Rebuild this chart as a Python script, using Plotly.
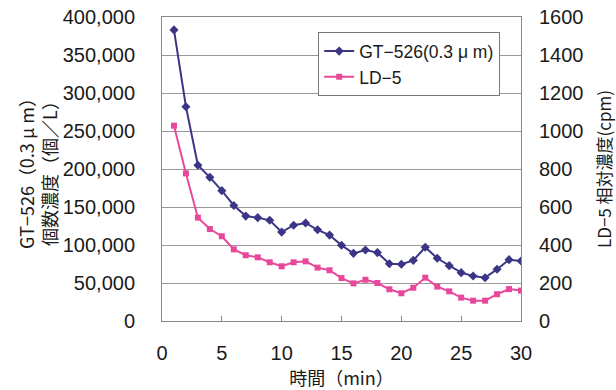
import plotly.graph_objects as go

minutes = list(range(1, 31))
gt526 = [383000, 282000, 205000, 189000, 171500, 152000, 138000, 136000, 132500, 117000,
         126000, 129000, 120000, 113000, 99600, 89000, 93400, 90000, 75400, 74600,
         79800, 97000, 82500, 72800, 63600, 59200, 57000, 68000, 80700, 79000]
ld5 = [1028, 777, 544, 484, 446, 377, 346, 335, 309, 288,
       309, 314, 281, 267, 226, 198, 217, 200, 167, 146,
       175, 228, 181, 156, 123, 107, 107, 141, 168, 160]

left_ticks = [0, 50000, 100000, 150000, 200000, 250000, 300000, 350000, 400000]
right_ticks = [0, 200, 400, 600, 800, 1000, 1200, 1400, 1600]
x_ticks = [0, 5, 10, 15, 20, 25, 30]

FONT = "Liberation Sans, Arial, Noto Sans CJK JP, sans-serif"
JFONT = "Noto Sans CJK JP, sans-serif"
navy = "#3b3585"
pink = "#e8489b"

fig = go.Figure()
fig.add_trace(go.Scatter(x=minutes, y=gt526, name="GT−526(0.3 μ m)", mode="lines+markers",
                         line=dict(color=navy, width=2),
                         marker=dict(symbol="diamond", size=7, color=navy)))
fig.add_trace(go.Scatter(x=minutes, y=ld5, name="LD−5", mode="lines+markers", yaxis="y2",
                         line=dict(color=pink, width=2),
                         marker=dict(symbol="square", size=6, color=pink)))

fig.update_layout(
    width=616, height=390,
    margin=dict(l=162, r=95, t=17, b=69, autoexpand=False),
    paper_bgcolor="white", plot_bgcolor="white",
    font=dict(family=FONT, size=20, color="#1a1a1a"),
    showlegend=True,
    legend=dict(x=0.435, y=0.95, xanchor="left", yanchor="top",
                bgcolor="white", bordercolor="#777", borderwidth=1,
                font=dict(size=17.5), tracegroupgap=0, itemwidth=30),
    xaxis=dict(range=[0, 30], tickvals=x_ticks, ticks="inside", ticklen=5, tickcolor="#888",
               ticklabelstandoff=14, automargin=False,
               showgrid=False, showline=True, linecolor="#888", mirror=True, zeroline=False,
               title=dict(text="時間（min）", font=dict(size=18, family=JFONT), standoff=2)),
    yaxis=dict(range=[0, 400000], tickvals=left_ticks, tickformat=",", showgrid=True,
               gridcolor="#999", gridwidth=1, showline=True, linecolor="#888", mirror=True,
               zeroline=False, ticks="", ticklen=0, ticklabelstandoff=22, automargin=False,
               title=dict(text="GT−526（0.3 μ m）<br>個数濃度（個／L）",
                          font=dict(size=18, family=JFONT), standoff=0)),
    yaxis2=dict(range=[0, 1600], tickvals=right_ticks, overlaying="y", side="right",
                showgrid=False, zeroline=False, showline=False, ticks="",
                ticklabelstandoff=17, automargin=False,
                title=dict(text="LD−5 相対濃度(cpm)",
                           font=dict(size=17, family=JFONT), standoff=19)),
)

fig.write_html("out.html")
